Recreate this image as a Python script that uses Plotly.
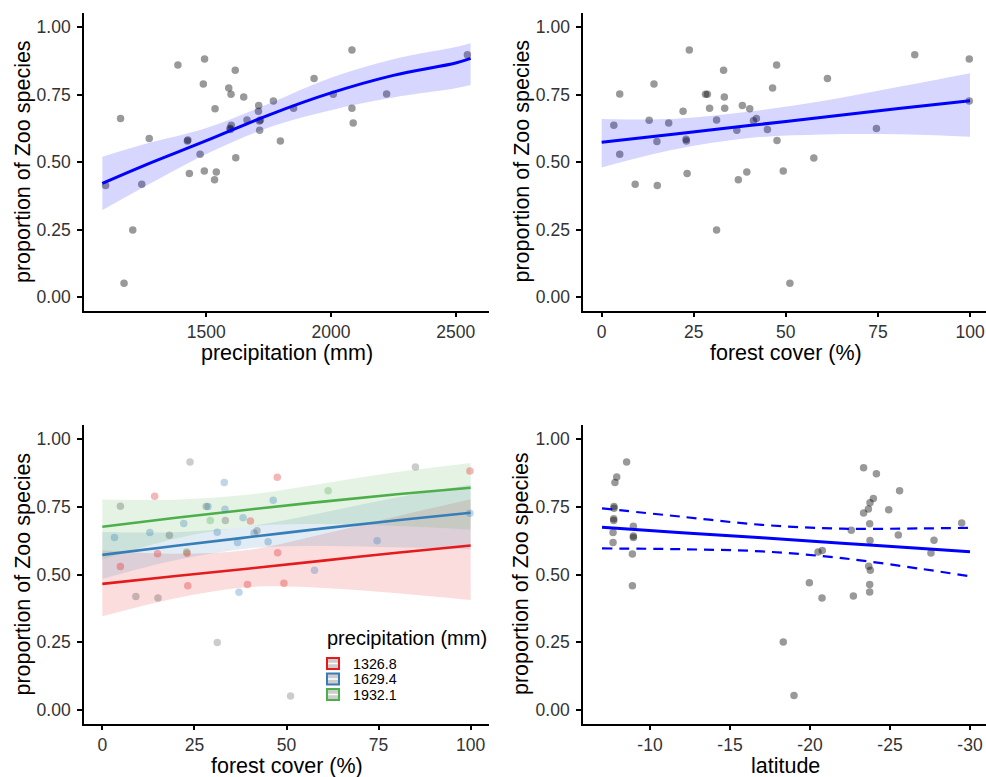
import plotly.graph_objects as go

# ---------------- data ----------------
# Panel A: proportion vs precipitation
precip_mm = [1096, 1156, 1170, 1205, 1241, 1271, 1386, 1424, 1426, 1432, 1475, 1488, 1492, 1493,
             1533, 1535, 1540, 1590, 1595, 1597, 1600, 1599, 1616, 1618, 1650, 1663, 1709, 1710,
             1713, 1717, 1714, 1769, 1797, 1850, 1932, 2009, 2084, 2084, 2089, 2223, 2547]
precip_prop = [0.414, 0.662, 0.052, 0.249, 0.419, 0.588, 0.860, 0.579, 0.583, 0.459, 0.530, 0.790,
               0.468, 0.883, 0.435, 0.698, 0.464, 0.775, 0.626, 0.622, 0.637, 0.752, 0.841, 0.517,
               0.742, 0.657, 0.689, 0.710, 0.653, 0.657, 0.619, 0.727, 0.579, 0.700, 0.810, 0.752,
               0.916, 0.700, 0.646, 0.753, 0.898]
precip_fit_x = [1083, 1250, 1500, 1750, 2000, 2250, 2500, 2560]
precip_fit = [0.422, 0.488, 0.580, 0.675, 0.757, 0.822, 0.868, 0.885]
precip_fit_hi = [0.521, 0.567, 0.627, 0.717, 0.813, 0.882, 0.927, 0.941]
precip_fit_lo = [0.323, 0.409, 0.531, 0.629, 0.693, 0.740, 0.774, 0.786]

# Panel B/C: proportion vs forest cover
forest_pct = [3.3, 4.9, 4.9, 9.1, 12.9, 14.2, 15.0, 15.1, 18.2, 22.1, 22.9, 23.0, 23.2, 23.8,
              28.2, 28.7, 29.3, 31.2, 31.2, 33.1, 33.3, 33.4, 36.7, 37.1, 38.2, 39.4, 40.2, 41.2,
              42.0, 45.0, 46.4, 47.5, 47.6, 49.3, 51.1, 57.6, 61.3, 74.6, 85.0, 99.8, 99.8]
forest_prop = [0.637, 0.753, 0.530, 0.419, 0.656, 0.790, 0.577, 0.414, 0.646, 0.689, 0.585, 0.579,
               0.459, 0.916, 0.752, 0.752, 0.700, 0.657, 0.249, 0.841, 0.742, 0.700, 0.619, 0.435,
               0.710, 0.464, 0.698, 0.654, 0.662, 0.622, 0.775, 0.860, 0.581, 0.468, 0.052, 0.516,
               0.810, 0.625, 0.898, 0.883, 0.727]
# precipitation class of each site (r = 1326.8, b = 1629.4, g = 1932.1, k = outside)
forest_precip_class = ['b', 'k', 'r', 'k', 'b', 'r', 'r', 'k', 'k', 'b', 'g', 'r', 'r', 'k',
                       'k', 'b', 'g', 'b', 'k', 'b', 'b', 'k', 'b', 'b', 'b', 'r', 'r', 'b',
                       'k', 'b', 'b', 'r', 'r', 'r', 'k', 'b', 'g', 'b', 'k', 'r', 'b']
forest_fit_x = [0, 20, 40, 60, 80, 100]
forest_fit = [0.574, 0.605, 0.636, 0.667, 0.698, 0.728]
forest_fit_hi = [0.660, 0.661, 0.688, 0.727, 0.778, 0.830]
forest_fit_lo = [0.481, 0.548, 0.590, 0.603, 0.604, 0.595]

# Panel C: interaction fits at three precipitation levels
precip_levels = ['1326.8', '1629.4', '1932.1']
inter_x = [0, 20, 40, 60, 80, 100]
inter_fit = {
    '1326.8': [0.466, 0.495, 0.523, 0.552, 0.581, 0.608],
    '1629.4': [0.573, 0.607, 0.639, 0.671, 0.701, 0.729],
    '1932.1': [0.677, 0.710, 0.741, 0.770, 0.797, 0.821],
}
inter_hi = {
    '1326.8': [0.590, 0.577, 0.592, 0.650, 0.716, 0.779],
    '1629.4': [0.658, 0.657, 0.679, 0.730, 0.785, 0.832],
    '1932.1': [0.778, 0.777, 0.796, 0.837, 0.879, 0.913],
}
inter_lo = {
    '1326.8': [0.346, 0.413, 0.454, 0.451, 0.431, 0.406],
    '1629.4': [0.484, 0.554, 0.598, 0.606, 0.601, 0.593],
    '1932.1': [0.556, 0.634, 0.679, 0.687, 0.680, 0.667],
}

# Panel D: proportion vs latitude
lat_deg = [-7.69, -7.69, -7.73, -7.73, -7.75, -7.75, -7.81, -7.92, -8.54, -8.90, -8.90, -8.96,
           -8.96, -8.96, -18.33, -19.0, -19.96, -20.5, -20.77, -20.75, -22.58, -22.71, -23.35,
           -23.35, -23.65, -23.75, -23.96, -23.73, -23.75, -23.67, -23.77, -23.73, -23.73,
           -24.15, -24.92, -25.52, -25.60, -27.56, -27.75, -29.48]
lat_prop = [0.619, 0.656, 0.700, 0.707, 0.745, 0.752, 0.841, 0.861, 0.916, 0.576, 0.459, 0.679,
            0.643, 0.637, 0.251, 0.054, 0.470, 0.584, 0.589, 0.414, 0.664, 0.421, 0.895, 0.728,
            0.743, 0.766, 0.781, 0.688, 0.626, 0.531, 0.516, 0.464, 0.436, 0.873, 0.740, 0.647,
            0.810, 0.580, 0.627, 0.691]
lat_fit_x = [-7, -12, -17, -22, -27, -30]
lat_fit = [0.675, 0.655, 0.636, 0.616, 0.597, 0.585]
lat_fit_hi = [0.745, 0.714, 0.684, 0.670, 0.671, 0.673]
lat_fit_lo = [0.597, 0.594, 0.586, 0.561, 0.521, 0.494]

y_ticks = [0, 0.25, 0.5, 0.75, 1.0]
y_tick_labels = ['0.00', '0.25', '0.50', '0.75', '1.00']
precip_ticks = [1500, 2000, 2500]
forest_ticks = [0, 25, 50, 75, 100]
lat_ticks = [-10, -15, -20, -25, -30]
lat_tick_labels = ['-10', '-15', '-20', '-25', '-30']

# ---------------- styling ----------------
W, H = 986, 777
FONT = "Liberation Sans, Arial, sans-serif"
BLUE = "#0000FF"
LEVEL_COL = {'1326.8': (228, 26, 28), '1629.4': (55, 126, 184), '1932.1': (77, 175, 74)}
CLASS_COL = {'r': 'rgba(228,26,28,0.32)', 'b': 'rgba(55,126,184,0.32)',
             'g': 'rgba(77,175,74,0.32)', 'k': 'rgba(0,0,0,0.2)'}


def fx(p):
    return p / W


def fy(p):
    return 1 - p / H


fig = go.Figure()


def ribbon(xs, lo, hi, color, xa, ya):
    fig.add_trace(go.Scatter(x=xs, y=lo, mode='lines', line=dict(width=0, shape='spline'),
                             xaxis=xa, yaxis=ya, showlegend=False, hoverinfo='skip'))
    fig.add_trace(go.Scatter(x=xs, y=hi, mode='lines', line=dict(width=0, shape='spline'),
                             fill='tonexty', fillcolor=color, xaxis=xa, yaxis=ya,
                             showlegend=False, hoverinfo='skip'))


def points(xs, ys, color, xa, ya):
    fig.add_trace(go.Scatter(x=xs, y=ys, mode='markers',
                             marker=dict(size=7.5, color=color, line=dict(width=0)),
                             xaxis=xa, yaxis=ya, showlegend=False))


# Panel A
points(precip_mm, precip_prop, 'rgba(0,0,0,0.4)', 'x', 'y')
ribbon(precip_fit_x, precip_fit_lo, precip_fit_hi, 'rgba(0,0,255,0.16)', 'x', 'y')
fig.add_trace(go.Scatter(x=precip_fit_x, y=precip_fit, mode='lines',
                         line=dict(color=BLUE, width=3, shape='spline'),
                         xaxis='x', yaxis='y', showlegend=False))

# Panel B
points(forest_pct, forest_prop, 'rgba(0,0,0,0.4)', 'x2', 'y2')
ribbon(forest_fit_x, forest_fit_lo, forest_fit_hi, 'rgba(0,0,255,0.16)', 'x2', 'y2')
fig.add_trace(go.Scatter(x=forest_fit_x, y=forest_fit, mode='lines',
                         line=dict(color=BLUE, width=3, shape='spline'),
                         xaxis='x2', yaxis='y2', showlegend=False))

# Panel C
for lev in precip_levels:
    r, g, b = LEVEL_COL[lev]
    ribbon(inter_x, inter_lo[lev], inter_hi[lev], f'rgba({r},{g},{b},0.15)', 'x3', 'y3')
for lev in precip_levels:
    r, g, b = LEVEL_COL[lev]
    fig.add_trace(go.Scatter(x=inter_x, y=inter_fit[lev], mode='lines',
                             line=dict(color=f'rgb({r},{g},{b})', width=2.6, shape='spline'),
                             xaxis='x3', yaxis='y3', showlegend=False))
points(forest_pct, forest_prop, [CLASS_COL[c] for c in forest_precip_class], 'x3', 'y3')

# Panel D
points(lat_deg, lat_prop, 'rgba(0,0,0,0.4)', 'x4', 'y4')
for arr in (lat_fit_hi, lat_fit_lo):
    fig.add_trace(go.Scatter(x=lat_fit_x, y=arr, mode='lines',
                             line=dict(color=BLUE, width=2.2, dash='10px,7px', shape='spline'),
                             xaxis='x4', yaxis='y4', showlegend=False))
fig.add_trace(go.Scatter(x=lat_fit_x, y=lat_fit, mode='lines',
                         line=dict(color=BLUE, width=3, shape='spline'),
                         xaxis='x4', yaxis='y4', showlegend=False))

# ---------------- axes ----------------
common = dict(showline=True, linecolor='black', linewidth=1.7, ticks='outside', ticklen=5,
              tickwidth=1.7, tickcolor='black', showgrid=False, zeroline=False,
              tickfont=dict(size=17.5, color='#333333', family=FONT), fixedrange=True)
yax = dict(tickvals=y_ticks, ticktext=y_tick_labels, ticklabelstandoff=3, **common)
xax = dict(ticklabelstandoff=0, **common)

top_y = [fy(310.5), fy(12.5)]
bot_y = [fy(723.5), fy(425)]
left_x = [fx(84), fx(489)]
right_x = [fx(583.25), 1.0]

fig.update_layout(
    xaxis=dict(domain=left_x, range=[1009.4, 2633.7], tickvals=precip_ticks, anchor='y', **xax),
    yaxis=dict(domain=top_y, range=[-0.0488, 1.0549], anchor='x', **yax),
    xaxis2=dict(domain=right_x, range=[-5, 104.34], tickvals=forest_ticks, anchor='y2', **xax),
    yaxis2=dict(domain=top_y, range=[-0.0488, 1.0549], anchor='x2', **yax),
    xaxis3=dict(domain=left_x, range=[-4.98, 104.98], tickvals=forest_ticks, anchor='y3', **xax),
    yaxis3=dict(domain=bot_y, range=[-0.0499, 1.053], anchor='x3', **yax),
    xaxis4=dict(domain=[fx(583), 1.0], range=[-5.8125, -31], tickvals=lat_ticks,
                ticktext=lat_tick_labels, anchor='y4', **xax),
    yaxis4=dict(domain=bot_y, range=[-0.0499, 1.053], anchor='x4', **yax),
)

# ---------------- axis titles ----------------
ann = []
TFONT = dict(size=21.5, color='black', family=FONT)
for txt, cx, cy in [("precipitation (mm)", 286.5, 353), ("forest cover (%)", 785.5, 353),
                    ("forest cover (%)", 286.5, 766), ("latitude", 785.5, 766)]:
    ann.append(dict(text=txt, x=fx(cx), y=fy(cy), xref='paper', yref='paper', showarrow=False,
                    xanchor='center', yanchor='middle', font=TFONT))
for cx, cy in [(22.5, 161.5), (521, 161.5), (22.5, 574), (521, 574)]:
    ann.append(dict(text="proportion of Zoo species", x=fx(cx), y=fy(cy), xref='paper', yref='paper',
                    showarrow=False, textangle=-90, xanchor='center', yanchor='middle', font=TFONT))

# ---------------- legend (panel C) ----------------
shapes = []
ann.append(dict(text="precipitation (mm)", x=fx(325), y=fy(638), xref='paper', yref='paper',
                showarrow=False, xanchor='left', yanchor='middle',
                font=dict(size=20, color='black', family=FONT)))
for lev, cy in zip(precip_levels, [663.5, 679, 694.5]):
    r, g, b = LEVEL_COL[lev]
    shapes.append(dict(type='rect', xref='paper', yref='paper', x0=fx(327), x1=fx(339),
                       y0=fy(cy + 5.5), y1=fy(cy - 5.5), fillcolor='#cdcdcd',
                       line=dict(color=f'rgb({r},{g},{b})', width=2)))
    shapes.append(dict(type='line', xref='paper', yref='paper', x0=fx(328), x1=fx(338),
                       y0=fy(cy), y1=fy(cy), line=dict(color='white', width=1.5)))
    ann.append(dict(text=lev, x=fx(351), y=fy(cy), xref='paper', yref='paper', showarrow=False,
                    xanchor='left', yanchor='middle', font=dict(size=14.3, color='black', family=FONT)))

fig.update_layout(width=W, height=H, margin=dict(l=0, r=0, t=0, b=0), autosize=False,
                  paper_bgcolor='white', plot_bgcolor='white', showlegend=False,
                  annotations=ann, shapes=shapes, font=dict(family=FONT))

fig.write_html("out.html", config={'displayModeBar': False},
               post_script="document.body.style.margin='0px';")
